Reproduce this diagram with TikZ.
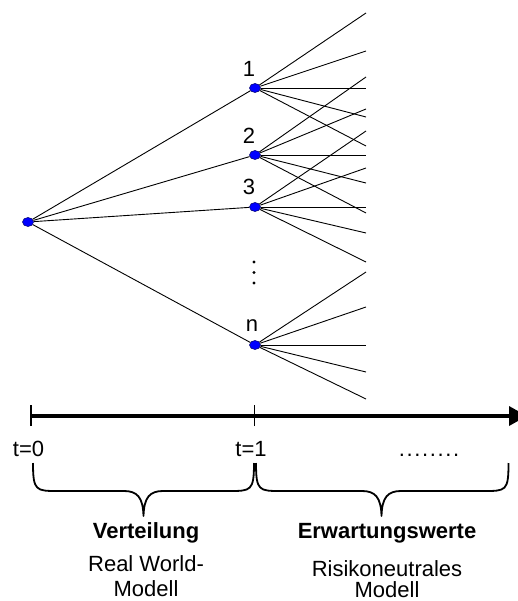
\documentclass[tikz,border=0pt]{standalone}
\usepackage{fontspec}
\setmainfont{Liberation Sans}
\usetikzlibrary{arrows.meta,shapes.geometric}
\begin{document}
\begin{tikzpicture}[x=1pt,y=-1pt,
  state/.style={shape=ellipse,minimum width=11pt,minimum height=9pt,inner sep=0pt,
                fill=blue,draw=black!55!blue,line width=0.6pt},
  branch/.style={line width=0.9pt,black},
  lbl/.style={font=\fontsize{22}{26}\selectfont,anchor=base,inner sep=0pt},
  txt/.style={font=\fontsize{22}{26}\selectfont,anchor=base,inner sep=0pt},
  btxt/.style={font=\fontsize{22}{26}\selectfont\bfseries,anchor=base,inner sep=0pt},
  axisline/.style={line width=3.5pt,-{Triangle[length=18pt,width=19pt]}},
  tickline/.style={line width=1.5pt},
  bracepath/.style={line width=1.8pt,line join=round}
]
\clip (0,0) rectangle (518,601);
\fill[white] (0,0) rectangle (518,601);

% nodes
\node[state] (r) at (28,222) {};
\node[state] (n1) at (255,88) {};
\node[state] (n2) at (255,155) {};
\node[state] (n3) at (255,207) {};
\node[state] (nn) at (255,345) {};

% end points
\foreach \y [count=\i] in {13,51,88,117,146} \coordinate (e1\i) at (366,\y);
\foreach \y [count=\i] in {77,109,155,183,213} \coordinate (e2\i) at (366,\y);
\foreach \y [count=\i] in {131,168,207,233,262} \coordinate (e3\i) at (366,\y);
\foreach \y [count=\i] in {272,307,345,372,399} \coordinate (e4\i) at (366,\y);

\draw[branch] (r) -- (n1);
\draw[branch] (r) -- (n2);
\draw[branch] (r) -- (n3);
\draw[branch] (r) -- (nn);
\foreach \i in {1,...,5} {
  \draw[branch] (n1) -- (e1\i);
  \draw[branch] (n2) -- (e2\i);
  \draw[branch] (n3) -- (e3\i);
  \draw[branch] (nn) -- (e4\i);
}

% node labels
\node[lbl] (l1) at (249,77) {1};
\node[lbl] (l2) at (249,144) {2};
\node[lbl] (l3) at (249,195) {3};
\node[lbl] (ln) at (252,331) {n};

% vertical dots
\fill (254,262) circle (1.7);
\fill (254,272.5) circle (1.7);
\fill (254,283) circle (1.7);

% time axis
\coordinate (t0) at (31,416);
\coordinate (t1) at (254.5,416);
\coordinate (tend) at (527,416);
\draw[axisline] (t0) -- (tend);
\draw[tickline] ([yshift=-10pt]t0) -- ([yshift=11pt]t0);
\draw[tickline] ([yshift=-10pt]t1) -- ([yshift=11pt]t1);

\node[lbl] (lt0) at (28.5,456.5) {t=0};
\node[lbl] (lt1) at (251,456.5) {t=1};
\node[lbl,font=\fontsize{22}{26}\selectfont\addfontfeatures{LetterSpace=7.5}] (ldots) at (429,456) {........};

% braces
\draw[bracepath] (33,463) .. controls (33,491) and (36,491) .. (58,491)
  -- (124,491) .. controls (137,491) and (143,497) .. (143.5,516)
  .. controls (144,497) and (150,491) .. (163,491)
  -- (229,491) .. controls (251,491) and (254,491) .. (254,463);
\draw[bracepath] (256,463) .. controls (256,491) and (259,491) .. (281,491)
  -- (362,491) .. controls (375,491) and (381,497) .. (381.5,516)
  .. controls (382,497) and (388,491) .. (401,491)
  -- (484,491) .. controls (506,491) and (508.5,491) .. (508.5,463);

% texts
\node[btxt] (v) at (146,538.3) {Verteilung};
\node[txt] (rw) at (146,571.7) {Real World-};
\node[txt] (m1) at (146,596.5) {Modell};
\node[btxt] (ew) at (387,538.3) {Erwartungswerte};
\node[txt] (rn) at (387,576.5) {Risikoneutrales};
\node[txt] (m2) at (387,597) {Modell};
\end{tikzpicture}
\end{document}
